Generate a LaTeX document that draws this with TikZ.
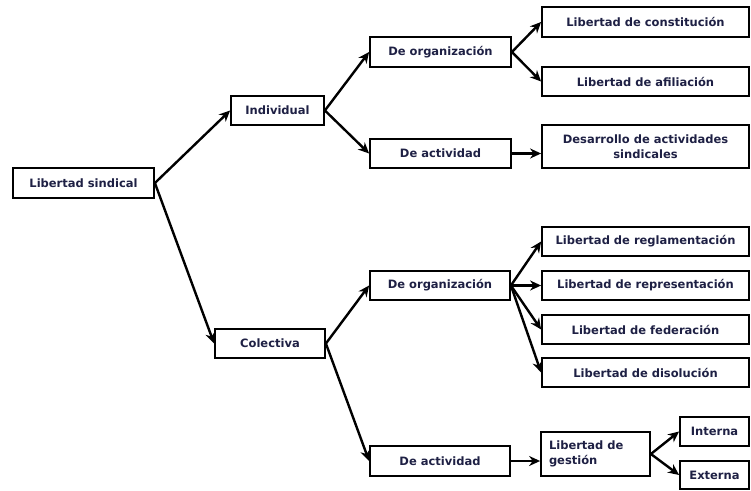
\documentclass[tikz,border=0pt]{standalone}
\usepackage{fontspec}
\setmainfont{DejaVu Sans}
\usetikzlibrary{arrows.meta}
\definecolor{txt}{RGB}{30,32,68}
\tikzset{
  box/.style={draw=black, line width=1.8pt, fill=white, inner sep=0pt, align=center,
    font=\fontsize{11.5}{15}\selectfont\bfseries, text=txt},
  conn/.style={line width=2.4pt, -{Stealth[length=11pt,width=10pt]}},
}
\begin{document}
\begin{tikzpicture}[x=1pt,y=-1pt]
\useasboundingbox (0,0) rectangle (751,490);
\node[box, minimum width=141, minimum height=30] (ls) at (83.5,183) {Libertad sindical};
\node[box, minimum width=93, minimum height=29] (ind) at (277.5,110.5) {Individual};
\node[box, minimum width=141, minimum height=30] (org1) at (440.5,52) {De organización};
\node[box, minimum width=141, minimum height=29] (act1) at (440.5,153.5) {De actividad};
\node[box, minimum width=207, minimum height=30] (cons) at (645.5,22) {Libertad de constitución};
\node[box, minimum width=207, minimum height=29] (afil) at (645.5,81.5) {Libertad de afiliación};
\node[box, minimum width=207, minimum height=43] (des) at (645.5,146.5) {Desarrollo de actividades\\sindicales};
\node[box, minimum width=110, minimum height=29] (col) at (270,343.5) {Colectiva};
\node[box, minimum width=140, minimum height=29] (org2) at (440,285.5) {De organización};
\node[box, minimum width=207, minimum height=29] (regl) at (645.5,241.5) {Libertad de reglamentación};
\node[box, minimum width=207, minimum height=29] (repr) at (645.5,285.5) {Libertad de representación};
\node[box, minimum width=207, minimum height=29] (fed) at (645.5,329.5) {Libertad de federación};
\node[box, minimum width=207, minimum height=29] (dis) at (645.5,372.5) {Libertad de disolución};
\node[box, minimum width=140, minimum height=30] (act2) at (440,461) {De actividad};
\node[box, minimum width=109, minimum height=44, align=left, text width=93] (ges) at (595.5,454) {Libertad de\\gestión};
\node[box, minimum width=69, minimum height=29] (int) at (714.5,431.5) {Interna};
\node[box, minimum width=69, minimum height=28] (ext) at (714.5,475) {Externa};

\draw[conn] (ls.east) -- (ind.west);
\draw[conn] (ls.east) -- (col.west);
\draw[conn] (ind.east) -- (org1.west);
\draw[conn] (ind.east) -- (act1.west);
\draw[conn] (org1.east) -- (cons.west);
\draw[conn] (org1.east) -- (afil.west);
\draw[conn] (act1.east) -- (des.west |- act1.east);
\draw[conn] (col.east) -- (org2.west);
\draw[conn] (col.east) -- (act2.west);
\draw[conn] (org2.east) -- (regl.west);
\draw[conn] (org2.east) -- (repr.west);
\draw[conn] (org2.east) -- (fed.west);
\draw[conn] (org2.east) -- (dis.west);
\draw[conn] (act2.east) -- (ges.west |- act2.east);
\draw[conn] (ges.east) -- (int.west);
\draw[conn] (ges.east) -- (ext.west);
\end{tikzpicture}
\end{document}
